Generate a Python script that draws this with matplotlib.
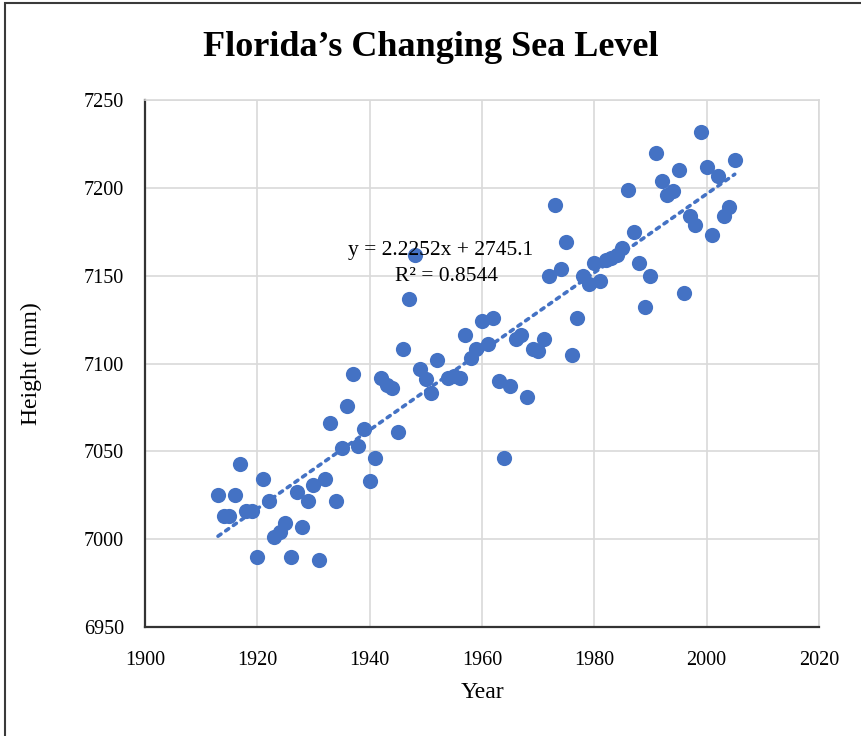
import matplotlib
matplotlib.use("Agg")
import matplotlib.pyplot as plt
import numpy as np
from matplotlib.patches import Rectangle

# annual mean sea level readings (mm)
years = [1913, 1914, 1915, 1916, 1917, 1918, 1919, 1920, 1921, 1922,
         1923, 1924, 1925, 1926, 1927, 1928, 1929, 1930, 1931, 1932,
         1933, 1934, 1935, 1936, 1937, 1938, 1939, 1940, 1941, 1942,
         1943, 1944, 1945, 1946, 1947, 1948, 1949, 1950, 1951, 1952,
         1954, 1955, 1956, 1957, 1958, 1959, 1960, 1961, 1962, 1963,
         1964, 1965, 1966, 1967, 1968, 1969, 1970, 1971, 1972, 1973,
         1974, 1975, 1976, 1977, 1978, 1979, 1980, 1981, 1982, 1983,
         1984, 1985, 1986, 1987, 1988, 1989, 1990, 1991, 1992, 1993,
         1994, 1995, 1996, 1997, 1998, 1999, 2000, 2001, 2002, 2003,
         2004, 2005]
heights = [7025, 7013, 7013, 7025, 7043, 7016, 7016, 6990, 7034, 7022,
           7001, 7004, 7009, 6990, 7027, 7007, 7022, 7031, 6988, 7034,
           7066, 7022, 7052, 7076, 7094, 7053, 7063, 7033, 7046, 7092,
           7088, 7086, 7061, 7108, 7137, 7162, 7097, 7091, 7083, 7102,
           7092, 7093, 7092, 7116, 7103, 7108, 7124, 7111, 7126, 7090,
           7046, 7087, 7114, 7116, 7081, 7108, 7107, 7114, 7150, 7190,
           7154, 7169, 7105, 7126, 7150, 7145, 7157, 7147, 7159, 7160,
           7162, 7166, 7199, 7175, 7157, 7132, 7150, 7220, 7204, 7196,
           7198, 7210, 7140, 7184, 7179, 7232, 7212, 7173, 7207, 7184,
           7189, 7216]

x_ticks = [1900, 1920, 1940, 1960, 1980, 2000, 2020]
y_ticks = [6950, 7000, 7050, 7100, 7150, 7200, 7250]

eq_text = "y = 2.2252x + 2745.1"
r2_text = "R² = 0.8544"

BLUE = "#4472C4"

plt.rcParams["font.family"] = ["Liberation Serif", "DejaVu Serif"]

fig = plt.figure(figsize=(8.61, 7.36), dpi=100)
ax = fig.add_axes([0.1684, 0.1481, 0.9512 - 0.1684, 0.8641 - 0.1481])

# chart frame (screenshot border)
fig.patches.append(Rectangle((5 / 861, -0.01), 1.02, 1 - 3 / 736 + 0.01,
                             transform=fig.transFigure, fill=False,
                             edgecolor="#3a3a3a", linewidth=1.5))

ax.scatter(years, heights, s=120, color=BLUE, zorder=3, linewidths=0)

# linear trend
x = np.asarray(years, dtype=float)
coef = np.polyfit(x, np.asarray(heights, dtype=float), 1)
xs = np.array([x.min(), x.max()])
ax.plot(xs, np.polyval(coef, xs), color=BLUE, ls=(0, (1, 1.6)), lw=2.6,
        dash_capstyle="round", zorder=2)

ax.text(1952.6, 7164.5, eq_text, fontsize=15.5, ha="center", va="center", zorder=4)
ax.text(1953.7, 7149.8, r2_text, fontsize=15.5, ha="center", va="center", zorder=4)

ax.set_xlim(1900, 2020)
ax.set_ylim(6950, 7250)
ax.set_xticks(x_ticks)
ax.set_yticks(y_ticks)
ax.grid(True, color="#d9d9d9", lw=1.2, zorder=0)
ax.set_axisbelow(True)
ax.tick_params(length=0, labelsize=14.5)
ax.tick_params(axis="x", pad=17)
ax.tick_params(axis="y", pad=15)
for s in ("top", "right"):
    ax.spines[s].set_color("#d9d9d9")
    ax.spines[s].set_linewidth(1.2)
for s in ("left", "bottom"):
    ax.spines[s].set_color("#333333")
    ax.spines[s].set_linewidth(1.6)

ax.set_xlabel("Year", fontsize=17, labelpad=9)
ax.set_ylabel("Height (mm)", fontsize=17, labelpad=30)
fig.text(0.5, 0.936, "Florida\u2019s Changing Sea Level", ha="center",
         va="center", fontsize=26, fontweight="bold")

fig.savefig("out.png", dpi=100)
